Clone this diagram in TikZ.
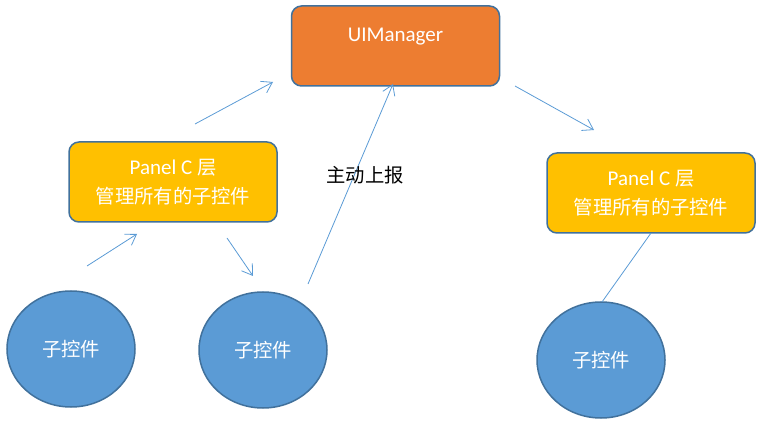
\documentclass[tikz,border=0pt]{standalone}
\usepackage{fontspec}
\setmainfont{Carlito}
\newfontfamily\cjk[Scale=0.92]{Noto Sans CJK SC}
\usetikzlibrary{arrows.meta,shapes.geometric}

\definecolor{uiorange}{HTML}{ED7D31}
\definecolor{panelgold}{HTML}{FFC000}
\definecolor{ctrlblue}{HTML}{5B9BD5}
\definecolor{edgeblue}{HTML}{41719C}
\definecolor{linkblue}{HTML}{5B9BD5}

\tikzset{
  box/.style={draw=edgeblue, line width=1.5pt, rounded corners=10pt,
    inner sep=0pt, minimum width=208pt, text=white,
    font=\fontsize{21}{29}\selectfont, align=center},
  manager/.style={box, fill=uiorange},
  panel/.style={box, fill=panelgold, minimum height=80pt},
  ctrl/.style={ellipse, draw=edgeblue, line width=1.5pt, fill=ctrlblue,
    minimum width=128pt, minimum height=116pt, inner sep=0pt, text=white,
    font=\fontsize{21}{25}\selectfont\cjk},
  link/.style={draw=linkblue, line width=0.8pt},
  arr/.style={link, -{Straight Barb[length=10pt,width=13pt]}}
}

\begin{document}
\begin{tikzpicture}[x=1pt,y=-1pt]
  \useasboundingbox (0,0) rectangle (763,427);
  %
  % Manager and panels
  \node[manager, text height=36pt, text depth=44pt, anchor=base] (uim)
    at (395.5,42) {UIManager};
  \node[panel] (panelL) at (173,182) {Panel C {\cjk 层}\\{\cjk 管理所有的子控件}};
  \node[panel] (panelR) at (651,193) {Panel C {\cjk 层}\\{\cjk 管理所有的子控件}};
  %
  % Child controls
  \node[ctrl] (ctrlA) at (71,349) {子控件};
  \node[ctrl] (ctrlB) at (263,350) {子控件};
  \node[ctrl] (ctrlC) at (601,360) {子控件};
  %
  % Connector ends
  \coordinate (pL-out) at (195,124);
  \coordinate (uim-inL) at (273,82);
  \coordinate (cA-out) at (87,266);
  \coordinate (pL-inA) at (137,234);
  \coordinate (pL-outB) at (227,238);
  \coordinate (cB-in) at (253,276);
  \coordinate (cB-out) at (308,284);
  \coordinate (uim-inB) at (393,84);
  \coordinate (uim-out) at (515,86);
  \coordinate (pR-in) at (594,130);
  \coordinate (pR-out) at (651,233);
  \coordinate (cC-in) at (602,302);
  %
  % Connectors
  \draw[arr] (pL-out) -- (uim-inL);
  \draw[arr] (cA-out) -- (pL-inA);
  \draw[arr] (pL-outB) -- (cB-in);
  \draw[arr] (cB-out) -- (uim-inB);
  \draw[arr] (uim-out) -- (pR-in);
  \draw[link] (pR-out) -- (cC-in);
  %
  % Report label
  \node[font=\fontsize{21}{25}\selectfont\cjk] (report) at (365,175) {主动上报};
  %
\end{tikzpicture}
\end{document}
